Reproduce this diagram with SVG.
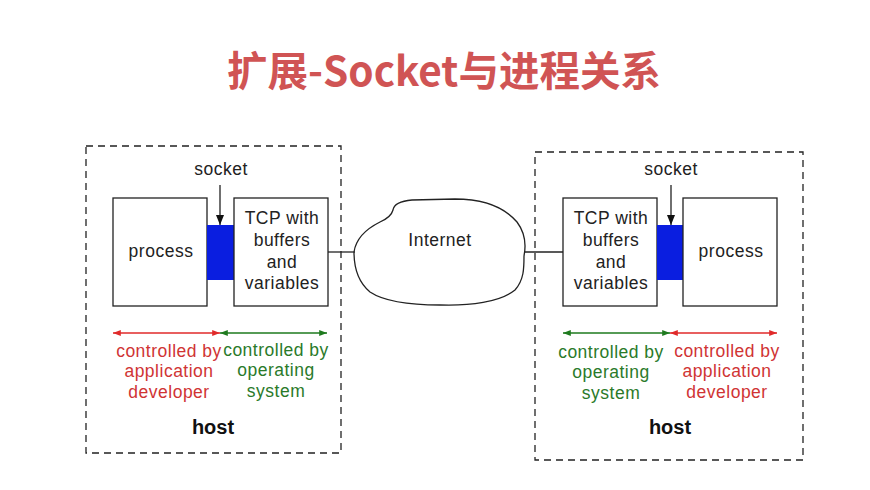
<svg xmlns="http://www.w3.org/2000/svg" width="870" height="490" viewBox="0 0 870 490">
<style>
.t{font-family:"Liberation Sans",Arial,sans-serif;font-size:17.5px;letter-spacing:0.5px;text-anchor:middle;fill:#222}
.red{fill:#d03434}
.grn{fill:#2a7a2a}
.box{fill:#fff;stroke:#222;stroke-width:1.3}
.host{fill:none;stroke:#222;stroke-width:1.3;stroke-dasharray:7,5}
.sock{fill:#0a1ee0}
.ln{stroke:#222;stroke-width:1.3;fill:none}
.title{font-family:"Noto Sans CJK SC","Noto Sans",sans-serif;font-weight:bold;font-size:40.5px;fill:#d05454;text-anchor:middle}
.hb{font-family:"Liberation Sans",Arial,sans-serif;font-size:20px;font-weight:bold;text-anchor:middle;fill:#111}
</style>
<defs>
<marker id="ab" viewBox="0 0 10 10" refX="10" refY="5" markerWidth="8" markerHeight="8" orient="auto"><path d="M0,1 L10,5 L0,9 z" fill="#111"/></marker>
<marker id="ar" viewBox="0 0 10 10" refX="10" refY="5" markerWidth="7" markerHeight="6" orient="auto-start-reverse"><path d="M0,1 L10,5 L0,9 z" fill="#e02a2a"/></marker>
<marker id="ag" viewBox="0 0 10 10" refX="10" refY="5" markerWidth="7" markerHeight="6" orient="auto-start-reverse"><path d="M0,1 L10,5 L0,9 z" fill="#1e7a1e"/></marker>
</defs>
<rect width="870" height="490" fill="#fff"/>
<text class="title" x="444" y="86">扩展-Socket与进程关系</text>

<g id="connectors">
<line class="ln" x1="328" y1="252" x2="355" y2="252"/>
<line class="ln" x1="524" y1="252" x2="563" y2="252"/>
<line class="ln" x1="220" y1="185" x2="220" y2="225" marker-end="url(#ab)"/>
<line class="ln" x1="671" y1="185" x2="671" y2="225" marker-end="url(#ab)"/>
<line x1="113" y1="333" x2="220" y2="333" stroke="#e02a2a" stroke-width="1.3" marker-start="url(#ar)" marker-end="url(#ar)"/>
<line x1="220" y1="333" x2="327" y2="333" stroke="#1e7a1e" stroke-width="1.3" marker-start="url(#ag)" marker-end="url(#ag)"/>
<line x1="563" y1="333" x2="670" y2="333" stroke="#1e7a1e" stroke-width="1.3" marker-start="url(#ag)" marker-end="url(#ag)"/>
<line x1="670" y1="333" x2="777" y2="333" stroke="#e02a2a" stroke-width="1.3" marker-start="url(#ar)" marker-end="url(#ar)"/>
</g>

<g id="host-left">
<rect class="host" x="86" y="146" width="255" height="307"/>
<text class="hb" x="213" y="434">host</text>
</g>
<g id="process-left">
<rect class="box" x="113" y="198" width="94" height="108"/>
<text class="t" x="161" y="257">process</text>
</g>
<g id="socket-left">
<rect class="sock" x="207" y="225" width="27" height="55"/>
<text class="t" x="221" y="175">socket</text>
</g>
<g id="tcp-left">
<rect class="box" x="234" y="198" width="94" height="108"/>
<text class="t" x="282" y="224">TCP with</text>
<text class="t" x="282" y="246">buffers</text>
<text class="t" x="282" y="268">and</text>
<text class="t" x="282" y="289">variables</text>
</g>
<g id="label-left-app">
<text class="t red" x="169" y="357">controlled by</text>
<text class="t red" x="169" y="377">application</text>
<text class="t red" x="169" y="398">developer</text>
</g>
<g id="label-left-os">
<text class="t grn" x="276" y="356">controlled by</text>
<text class="t grn" x="276" y="376">operating</text>
<text class="t grn" x="276" y="397">system</text>
</g>

<g id="internet">
<path class="ln" d="M354,252 C356,238 368,228 380,222 C389,218 392,214 393,210 C394,204 400,201 412,200 L455,199 C485,199 505,208 517,222 C526,234 526,246 524,256 C524,268 524,280 515,290 C500,302 470,306 440,305 C410,305 385,302 370,292 C358,282 354,268 354,252 Z"/>
<text class="t" x="440" y="246">Internet</text>
</g>

<g id="host-right">
<rect class="host" x="535" y="152" width="268" height="308"/>
<text class="hb" x="670" y="434">host</text>
</g>
<g id="tcp-right">
<rect class="box" x="563" y="198" width="94" height="108"/>
<text class="t" x="611" y="224">TCP with</text>
<text class="t" x="611" y="246">buffers</text>
<text class="t" x="611" y="268">and</text>
<text class="t" x="611" y="289">variables</text>
</g>
<g id="socket-right">
<rect class="sock" x="657" y="225" width="26" height="55"/>
<text class="t" x="671" y="175">socket</text>
</g>
<g id="process-right">
<rect class="box" x="683" y="198" width="94" height="108"/>
<text class="t" x="731" y="257">process</text>
</g>
<g id="label-right-os">
<text class="t grn" x="611" y="358">controlled by</text>
<text class="t grn" x="611" y="378">operating</text>
<text class="t grn" x="611" y="399">system</text>
</g>
<g id="label-right-app">
<text class="t red" x="727" y="357">controlled by</text>
<text class="t red" x="727" y="377">application</text>
<text class="t red" x="727" y="398">developer</text>
</g>
</svg>
